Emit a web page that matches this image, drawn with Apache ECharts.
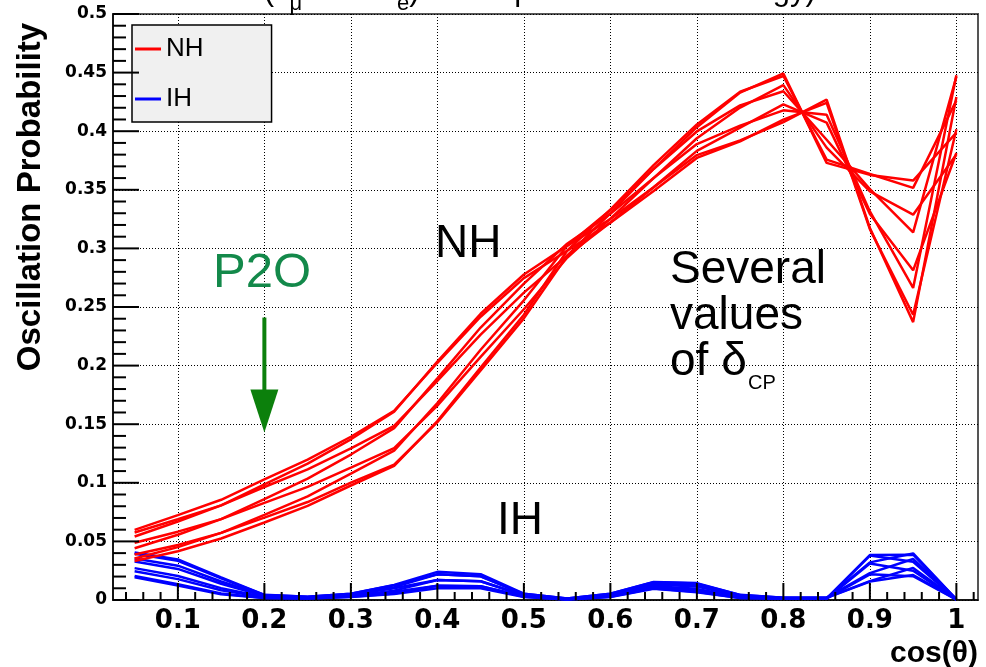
<!DOCTYPE html>
<html>
<head>
<meta charset="utf-8">
<script src="https://cdn.jsdelivr.net/npm/echarts@6/dist/echarts.min.js"></script>
<style>
  html, body { margin: 0; padding: 0; background: #fff; }
  #chart { width: 986px; height: 667px; }
</style>
</head>
<body>
<div id="chart"></div>
<script>
// cos(theta) bin centres
const cosTheta = [0.05, 0.10, 0.15, 0.20, 0.25, 0.30, 0.35, 0.40, 0.45, 0.50,
                  0.55, 0.60, 0.65, 0.70, 0.75, 0.80, 0.85, 0.90, 0.95, 1.00];

// axis ticks
const xTickValues = [0.1, 0.2, 0.3, 0.4, 0.5, 0.6, 0.7, 0.8, 0.9, 1.0];
const xTickLabels = ['0.1', '0.2', '0.3', '0.4', '0.5', '0.6', '0.7', '0.8', '0.9', '1'];
const xMinorTicks = [0.04, 0.06, 0.08, 0.12, 0.14, 0.16, 0.18, 0.22, 0.24, 0.26, 0.28,
                     0.32, 0.34, 0.36, 0.38, 0.42, 0.44, 0.46, 0.48, 0.52, 0.54, 0.56, 0.58,
                     0.62, 0.64, 0.66, 0.68, 0.72, 0.74, 0.76, 0.78, 0.82, 0.84, 0.86, 0.88,
                     0.92, 0.94, 0.96, 0.98, 1.02];
const yTickValues = [0, 0.05, 0.1, 0.15, 0.2, 0.25, 0.3, 0.35, 0.4, 0.45, 0.5];
const yMinorTicks = [0.01, 0.02, 0.03, 0.04, 0.06, 0.07, 0.08, 0.09, 0.11, 0.12, 0.13, 0.14,
                     0.16, 0.17, 0.18, 0.19, 0.21, 0.22, 0.23, 0.24, 0.26, 0.27, 0.28, 0.29,
                     0.31, 0.32, 0.33, 0.34, 0.36, 0.37, 0.38, 0.39, 0.41, 0.42, 0.43, 0.44,
                     0.46, 0.47, 0.48, 0.49];

// normal hierarchy, one curve per delta_CP value
const nh_d0   = [0.0488, 0.0583, 0.0690, 0.0829, 0.0965, 0.1129, 0.1295, 0.1659, 0.2075, 0.2481, 0.2920, 0.3254, 0.3600, 0.3940, 0.4202, 0.4393, 0.3860, 0.3486, 0.3288, 0.3802];
const nh_d45  = [0.0576, 0.0689, 0.0807, 0.0964, 0.1115, 0.1293, 0.1486, 0.1869, 0.2265, 0.2623, 0.2938, 0.3221, 0.3522, 0.3832, 0.4030, 0.4229, 0.4073, 0.3294, 0.2813, 0.3814];
const nh_d90  = [0.0598, 0.0724, 0.0855, 0.1029, 0.1197, 0.1393, 0.1615, 0.2024, 0.2417, 0.2746, 0.2980, 0.3219, 0.3490, 0.3772, 0.3914, 0.4099, 0.4242, 0.3165, 0.2434, 0.4017];
const nh_d135 = [0.0542, 0.0670, 0.0807, 0.0987, 0.1164, 0.1371, 0.1607, 0.2034, 0.2442, 0.2777, 0.3022, 0.3250, 0.3522, 0.3796, 0.3921, 0.4077, 0.4270, 0.3174, 0.2371, 0.4292];
const nh_d180 = [0.0442, 0.0557, 0.0690, 0.0861, 0.1035, 0.1241, 0.1466, 0.1891, 0.2325, 0.2699, 0.3040, 0.3296, 0.3600, 0.3890, 0.4048, 0.4178, 0.4140, 0.3315, 0.2663, 0.4478];
const nh_d225 = [0.0354, 0.0451, 0.0573, 0.0726, 0.0885, 0.1078, 0.1274, 0.1681, 0.2135, 0.2557, 0.3022, 0.3329, 0.3678, 0.3998, 0.4220, 0.4341, 0.3927, 0.3506, 0.3137, 0.4466];
const nh_d270 = [0.0332, 0.0416, 0.0525, 0.0661, 0.0803, 0.0977, 0.1145, 0.1526, 0.1984, 0.2434, 0.2980, 0.3331, 0.3710, 0.4058, 0.4337, 0.4471, 0.3758, 0.3635, 0.3516, 0.4263];
const nh_d315 = [0.0388, 0.0470, 0.0573, 0.0703, 0.0836, 0.1001, 0.1154, 0.1517, 0.1959, 0.2403, 0.2938, 0.3300, 0.3678, 0.4034, 0.4329, 0.4493, 0.3730, 0.3627, 0.3579, 0.3988];

// inverted hierarchy, one curve per delta_CP value
const ih_d0   = [0.0355, 0.0293, 0.0158, 0.0038, 0.0024, 0.0048, 0.0110, 0.0219, 0.0202, 0.0048, 0.0010, 0.0048, 0.0140, 0.0125, 0.0038, 0.0018, 0.0018, 0.0157, 0.0213, 0.0005];
const ih_d45  = [0.0406, 0.0346, 0.0192, 0.0044, 0.0028, 0.0054, 0.0129, 0.0240, 0.0220, 0.0054, 0.0012, 0.0054, 0.0154, 0.0144, 0.0044, 0.0020, 0.0020, 0.0161, 0.0274, 0.0006];
const ih_d90  = [0.0395, 0.0335, 0.0185, 0.0043, 0.0027, 0.0053, 0.0125, 0.0219, 0.0202, 0.0053, 0.0012, 0.0053, 0.0151, 0.0140, 0.0043, 0.0020, 0.0020, 0.0229, 0.0350, 0.0007];
const ih_d135 = [0.0328, 0.0265, 0.0139, 0.0034, 0.0022, 0.0044, 0.0100, 0.0170, 0.0160, 0.0044, 0.0009, 0.0044, 0.0133, 0.0115, 0.0034, 0.0016, 0.0016, 0.0321, 0.0397, 0.0006];
const ih_d180 = [0.0245, 0.0178, 0.0083, 0.0023, 0.0016, 0.0033, 0.0070, 0.0121, 0.0118, 0.0033, 0.0006, 0.0033, 0.0110, 0.0085, 0.0023, 0.0013, 0.0013, 0.0383, 0.0387, 0.0005];
const ih_d225 = [0.0194, 0.0124, 0.0048, 0.0016, 0.0012, 0.0026, 0.0051, 0.0100, 0.0100, 0.0026, 0.0004, 0.0026, 0.0096, 0.0066, 0.0016, 0.0010, 0.0010, 0.0379, 0.0326, 0.0004];
const ih_d270 = [0.0205, 0.0135, 0.0055, 0.0017, 0.0013, 0.0027, 0.0055, 0.0121, 0.0118, 0.0027, 0.0004, 0.0027, 0.0099, 0.0070, 0.0017, 0.0011, 0.0011, 0.0311, 0.0250, 0.0003];
const ih_d315 = [0.0272, 0.0205, 0.0101, 0.0026, 0.0018, 0.0036, 0.0080, 0.0170, 0.0160, 0.0036, 0.0007, 0.0036, 0.0117, 0.0095, 0.0026, 0.0014, 0.0014, 0.0219, 0.0203, 0.0004];

const nhCurves = [nh_d0, nh_d45, nh_d90, nh_d135, nh_d180, nh_d225, nh_d270, nh_d315];
const ihCurves = [ih_d0, ih_d45, ih_d90, ih_d135, ih_d180, ih_d225, ih_d270, ih_d315];

// P2O arrow: x position and vertical extent in data units
const arrowX = 0.2;
const arrowTop = 0.241;
const arrowTip = 0.143;

const X_MIN = 0.025, X_MAX = 1.025, Y_MIN = 0, Y_MAX = 0.5;
const SANS = 'Liberation Sans, Arial, sans-serif';
const BOLD_NUM = 'DejaVu Sans, sans-serif';

function curveSeries(name, values, color) {
  return {
    name: name,
    type: 'line',
    showSymbol: false,
    symbol: 'none',
    silent: true,
    z: 3,
    lineStyle: { color: color, width: 2.5 },
    itemStyle: { color: color },
    data: cosTheta.map((x, i) => [x, values[i]])
  };
}

const series = [];
ihCurves.forEach(c => series.push(curveSeries('IH', c, '#0000ff')));
nhCurves.forEach(c => series.push(curveSeries('NH', c, '#ff0000')));

const chart = echarts.init(document.getElementById('chart'), null, { renderer: 'canvas' });

const gridLine = { show: true, lineStyle: { color: '#000', width: 1, type: [1, 2] } };

chart.setOption({
  animation: false,
  backgroundColor: '#ffffff',
  grid: {
    left: 113, right: 8, top: 14, bottom: 67,
    show: true, borderColor: '#555', borderWidth: 2, backgroundColor: 'transparent',
    containLabel: false
  },
  legend: {
    data: ['NH', 'IH'],
    orient: 'vertical',
    left: 132, top: 25,
    padding: [11, 68, 10, 3],
    itemGap: 24,
    itemWidth: 26, itemHeight: 3,
    icon: 'rect',
    backgroundColor: '#f0f0f0',
    borderColor: '#000', borderWidth: 1.5, borderRadius: 0,
    selectedMode: false,
    z: 10,
    textStyle: { fontFamily: SANS, fontSize: 26, color: '#000', lineHeight: 26, padding: 0 }
  },
  xAxis: {
    type: 'value', min: X_MIN, max: X_MAX, position: 'bottom',
    axisLine: { show: true, onZero: false, lineStyle: { color: '#000', width: 1.5 } },
    axisTick: { show: false, customValues: xTickValues },
    axisLabel: {
      show: true, customValues: xTickValues, margin: 8,
      fontFamily: BOLD_NUM, fontWeight: 'bold', fontSize: 26, color: '#000',
      formatter: v => xTickLabels[xTickValues.findIndex(t => Math.abs(t - v) < 1e-9)] || ''
    },
    splitLine: gridLine
  },
  yAxis: {
    type: 'value', min: Y_MIN, max: Y_MAX, interval: 0.05,
    axisLine: { show: true, onZero: false, lineStyle: { color: '#000', width: 1.5 } },
    axisTick: { show: false },
    axisLabel: {
      show: true, margin: 6, showMinLabel: true, showMaxLabel: true,
      fontFamily: BOLD_NUM, fontWeight: 'bold', fontSize: 17, color: '#000',
      formatter: v => String(+v.toFixed(2))
    },
    splitLine: gridLine
  },
  series: series
});

const toPx = (x, y) => chart.convertToPixel({ xAxisIndex: 0, yAxisIndex: 0 }, [x, y]);

// linear pixel mapping taken from two interior points of the grid
const refA = toPx(0.1, 0.1);
const refB = toPx(0.2, 0.2);
const pxPerX = (refB[0] - refA[0]) / 0.1;
const pxPerY = (refB[1] - refA[1]) / 0.1;
const xPix = v => refA[0] + (v - 0.1) * pxPerX;
const yPix = v => refA[1] + (v - 0.1) * pxPerY;
const axisXPix = xPix(X_MIN);
const axisYPix = yPix(Y_MIN);

// inward tick marks on the left and bottom axes, on their own layer
function tickRect(x, y, w, h) {
  return {
    type: 'rect', silent: true, zlevel: 1, z: 100,
    shape: { x: x, y: y, width: w, height: h },
    style: { fill: '#000' }
  };
}
const TW = 2;
const tickEls = [];
yTickValues.forEach(v => tickEls.push(tickRect(axisXPix, yPix(v) - TW / 2, 26, TW)));
yMinorTicks.forEach(v => tickEls.push(tickRect(axisXPix, yPix(v) - TW / 2, 13, TW)));
xTickValues.forEach(v => tickEls.push(tickRect(xPix(v) - TW / 2, axisYPix - 17, TW, 17)));
xMinorTicks.forEach(v => tickEls.push(tickRect(xPix(v) - TW / 2, axisYPix - 8, TW, 8)));

// annotations
const p0 = toPx(arrowX, arrowTop);
const p1 = toPx(arrowX, arrowTip);
const headLen = 43, headHalf = 14;

function label(text, x, y, size, color) {
  return {
    type: 'text', x: x, y: y, silent: true, z: 100,
    style: { text: text, fontFamily: SANS, fontSize: size, fill: color || '#000',
             align: 'left', verticalAlign: 'middle' }
  };
}

const annotationEls = [
  // title, clipped by the top of the page
  {
    type: 'text', x: 243, y: -33, silent: true, z: 100,
    style: {
      text: 'P(ν{s|μ} \u2002→\u2002 ν{s|e}) at the peak neutrino energy)',
      fontFamily: SANS, fontSize: 31, lineHeight: 48, fill: '#000',
      align: 'left', verticalAlign: 'top',
      rich: { s: { fontFamily: SANS, fontSize: 22, lineHeight: 22, verticalAlign: 'bottom', fill: '#000' } }
    }
  },
  // y axis title
  {
    type: 'text', x: 31, y: 197, rotation: Math.PI / 2, silent: true, z: 100,
    style: { text: 'Oscillation Probability', fontFamily: SANS, fontWeight: 'bold', fontSize: 33,
             fill: '#000', align: 'center', verticalAlign: 'middle' }
  },
  // x axis title
  {
    type: 'text', x: 978, y: 669, silent: true, z: 100,
    style: { text: 'cos(θ)', fontFamily: SANS, fontWeight: 'bold', fontSize: 30,
             fill: '#000', align: 'right', verticalAlign: 'bottom' }
  },
  label('NH', 435, 244, 46),
  label('IH', 497, 521, 46),
  label('P2O', 213, 273, 49, '#13894a'),
  label('Several', 670, 270, 46),
  label('values', 670, 316, 46),
  label('of δ', 670, 362, 46),
  label('CP', 748, 383, 20),
  // arrow shaft and head
  {
    type: 'line', silent: true, z: 100,
    shape: { x1: p0[0], y1: p0[1], x2: p1[0], y2: p1[1] - headLen + 2 },
    style: { stroke: '#0c800c', lineWidth: 4 }
  },
  {
    type: 'polygon', silent: true, z: 100,
    shape: { points: [[p1[0] - headHalf, p1[1] - headLen], [p1[0] + headHalf, p1[1] - headLen], [p1[0], p1[1]]] },
    style: { fill: '#0c800c' }
  }
];

chart.setOption({ graphic: annotationEls.concat(tickEls) });
</script>
</body>
</html>
